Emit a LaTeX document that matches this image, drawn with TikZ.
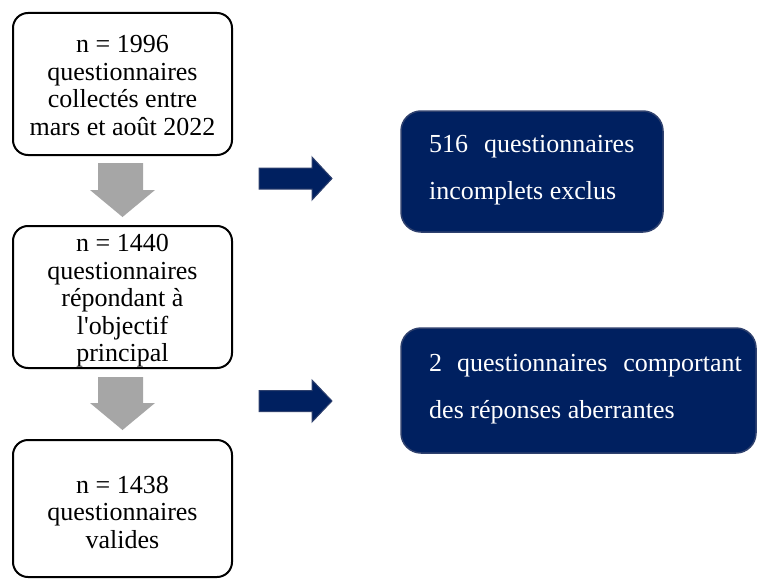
\documentclass[tikz,border=0pt]{standalone}
\usepackage{fontspec}
\setmainfont{Liberation Serif}
\definecolor{navy}{HTML}{002060}
\definecolor{navyedge}{HTML}{2F416E}
\definecolor{greyarrow}{HTML}{A6A6A6}
\tikzset{
  whitebox/.style={draw=black, line width=2pt, rounded corners=15pt, fill=white},
  navybox/.style={draw=navyedge, line width=1.5pt, rounded corners=20pt, fill=navy},
  leftfont/.style={font=\fontsize{26}{27.5}\selectfont, align=center, inner sep=0pt, anchor=north},
  rightfont/.style={font=\fontsize{26}{46.5}\selectfont, align=left, inner sep=0pt, anchor=north west, text=white},
  greyblock/.style={fill=greyarrow, draw=none},
  navyblock/.style={fill=navy, draw=navyedge, line width=1pt},
}
\begin{document}
\begin{tikzpicture}[x=1pt, y=-1pt]
\useasboundingbox (0,0) rectangle (757,578);
% left boxes
\draw[whitebox] (13,13) rectangle (232,155);
\node (b1) at (122.5,84) {};
\draw[whitebox] (13,226) rectangle (232,368);
\node (b2) at (122.5,297) {};
\draw[whitebox] (13,440) rectangle (232,577);
\node (b3) at (122.5,508) {};
\node[leftfont] (t1) at (122.5,35.2) {n = 1996\\questionnaires\\collectés entre\\mars et août 2022};
\node[leftfont] (t2) at (122.5,234.2) {n = 1440\\questionnaires\\répondant à\\l\textquotesingle objectif\\principal};
\node[leftfont] (t3) at (122.5,475.6) {n = 1438\\questionnaires\\valides};
% grey down arrows
\fill[greyblock] (98,163) -- (143,163) -- (143,190) -- (155,190) -- (122.5,217) -- (90,190) -- (98,190) -- cycle;
\fill[greyblock] (98,377) -- (143,377) -- (143,403) -- (155,403) -- (122.5,430) -- (90,403) -- (98,403) -- cycle;
% navy right arrows
\draw[navyblock] (259,168) -- (312,168) -- (312,157) -- (332,178.5) -- (312,200) -- (312,189) -- (259,189) -- cycle;
\draw[navyblock] (259,390.5) -- (312,390.5) -- (312,380) -- (332,401) -- (312,422) -- (312,411.5) -- (259,411.5) -- cycle;
% navy boxes
\draw[navybox] (401,111) rectangle (663,232);
\node (n1) at (532,171.5) {};
\draw[navybox] (401,328) rectangle (756,453);
\node (n2) at (578,390) {};
\node[rightfont] (t4) at (429,135.4) {516\hspace{16pt}questionnaires\\incomplets exclus};
\node[rightfont] (t5) at (429,354.4) {2\hspace{15pt}questionnaires\hspace{16pt}comportant\\des réponses aberrantes};
\end{tikzpicture}
\end{document}
